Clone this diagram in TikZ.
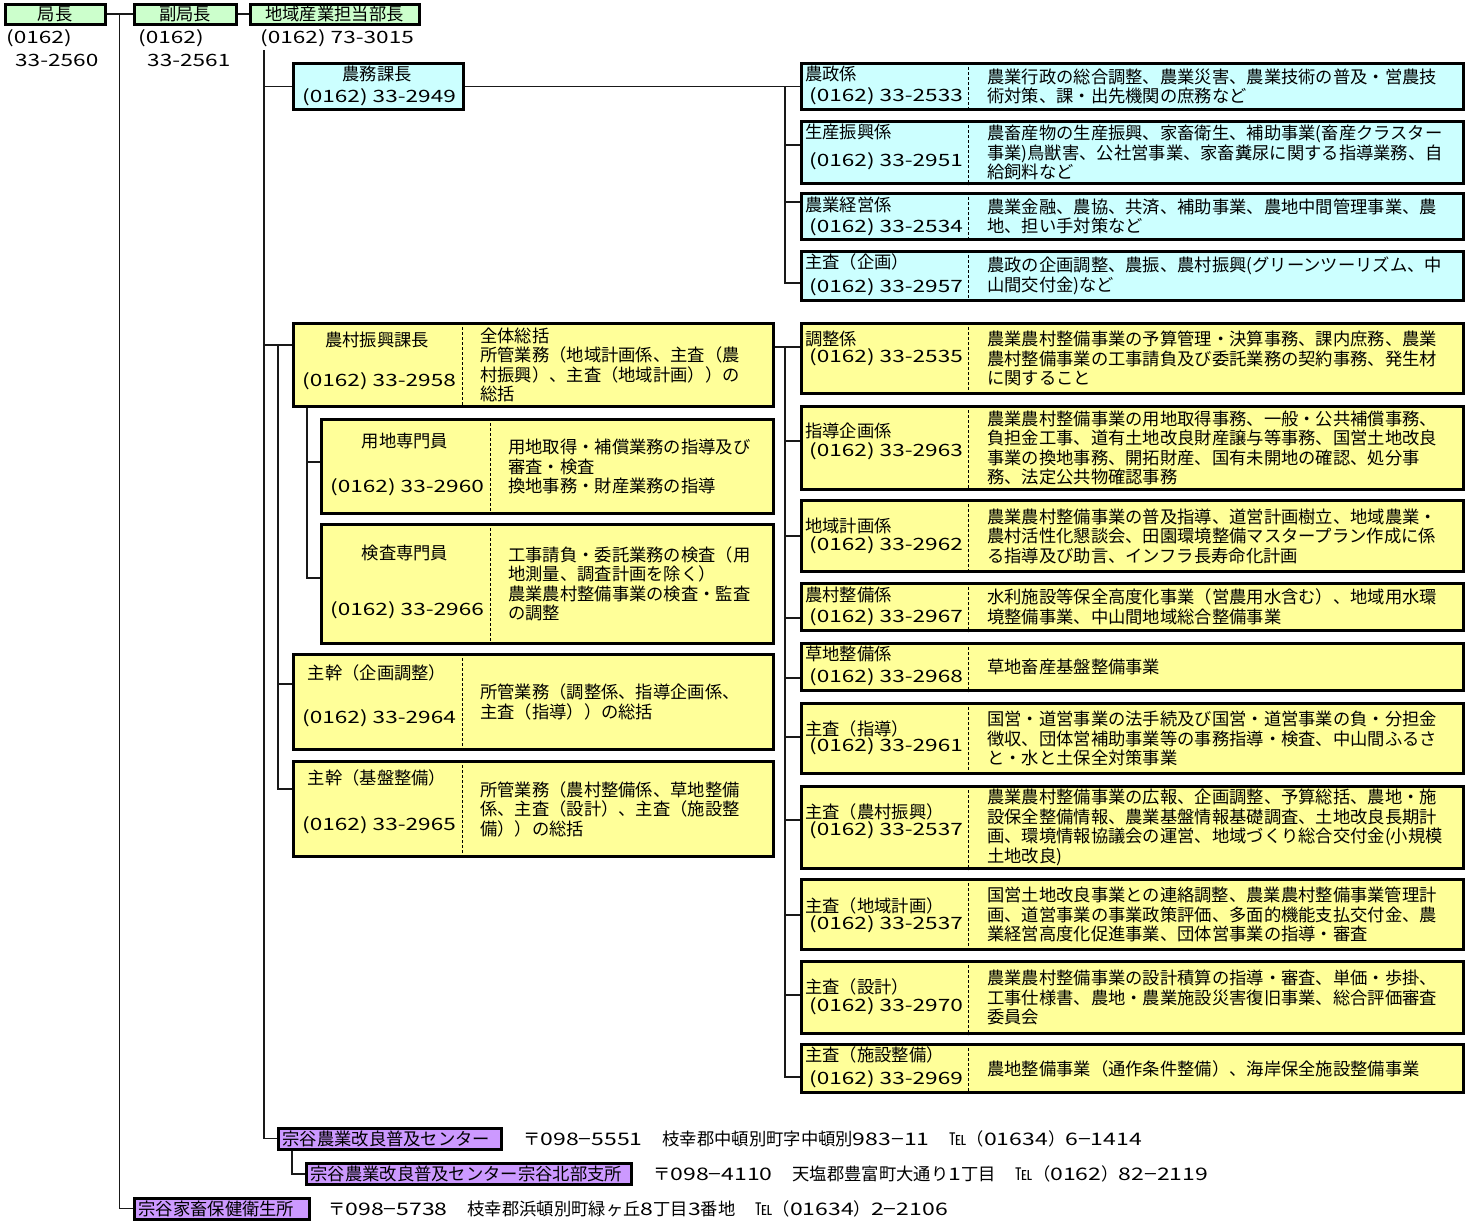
\documentclass[tikz,border=0pt]{standalone}
\usepackage{fontspec}
\setmainfont{Noto Sans CJK JP}
\newfontfamily\numfont[FakeStretch=1.33]{Noto Sans CJK JP}
\usetikzlibrary{positioning,calc}
\definecolor{kyokuC}{HTML}{CCFFCC}
\definecolor{nomuC}{HTML}{CCFFFF}
\definecolor{nosonC}{HTML}{FFFF99}
\definecolor{shisetsuC}{HTML}{CC99FF}

\tikzset{
  box/.style={draw=black, line width=3pt, inner sep=0pt, font=\fontsize{17.3}{19.5}\selectfont},
  link/.style={draw=black!90, line width=1.5pt},
  divider/.style={line width=0.9pt, dash pattern=on 3pt off 2pt},
  txt/.style={inner sep=0pt, anchor=west, font=\fontsize{17.3}{19.5}\selectfont},
  tel/.style={inner sep=0pt, anchor=west, font=\numfont\fontsize{17}{19}\selectfont},
  memo/.style={txt, align=left},
  purple/.style={box, fill=shisetsuC, anchor=west, align=left, inner xsep=4pt, minimum height=21},
}

% #1 name, #2 top, #3 bottom, #4 title y, #5 phone y, #6 title, #7 phone, #8 duties, #9 fill
\newcommand{\kakari}[9]{%
  \node[box, fill=#9, minimum width=662, minimum height={#3-#2}, anchor=north west] (#1) at (800,#2) {};
  \draw[divider] ([xshift=168pt]#1.north west) -- ([xshift=168pt]#1.south west);
  \node[txt] (#1-t) at (805,#4+1) {#6};
  \node[tel] (#1-p) at (809,#5) {#7};
  \node[memo] (#1-m) at ([xshift=187pt]#1.west) {#8};
}

% #1 name, #2 left, #3 top, #4 bottom, #5 title y, #6 phone y, #7 title, #8 phone, #9 duties
\newcommand{\kacho}[9]{%
  \node[box, fill=nosonC, minimum width={772-#2}, minimum height={#4-#3}, anchor=north west] (#1) at (#2,#3) {};
  \draw[divider] ([xshift=170pt]#1.north west) -- ([xshift=170pt]#1.south west);
  \node[txt, anchor=center] (#1-t) at (#2+85,#5+1) {#7};
  \node[tel] (#1-p) at (#2+10,#6) {#8};
  \node[memo] (#1-m) at ([xshift=188pt]#1.west) {#9};
}

\begin{document}
\begin{tikzpicture}[x=1pt,y=-1pt]
  \useasboundingbox (0,0) rectangle (1469,1221);

  % top row
  \node[box, fill=kyokuC, minimum width=100, minimum height=20] (kyokucho) at (55,14) {局長};
  \node[box, fill=kyokuC, minimum width=102, minimum height=20] (fuku) at (185,14) {副局長};
  \node[box, fill=kyokuC, minimum width=169, minimum height=20] (bucho) at (334.5,14) {地域産業担当部長};
  \node[tel] (kyokuchoA) at (6,38) {(0162)};
  \node[tel] (kyokuchoB) at (15,60) {33-2560};
  \node[tel] (fukuA) at (138,38) {(0162)};
  \node[tel] (fukuB) at (147,60) {33-2561};
  \node[tel] (buchoA) at (260,38) {(0162) 73-3015};

  \node[box, fill=nomuC, minimum width=170, minimum height=46, anchor=north west] (nomu) at (292,62) {};
  \node[txt, anchor=center] (nomu-t) at (377,74) {農務課長};
  \node[tel] (nomu-p) at (302,97) {(0162) 33-2949};

  % nomu section
  \kakari{nosei}{62}{108}{73}{96}{農政係}{(0162) 33-2533}{農業行政の総合調整、農業災害、農業技術の普及・営農技\\術対策、課・出先機関の庶務など}{nomuC}
  \kakari{seisan}{120}{182}{131}{161}{生産振興係}{(0162) 33-2951}{農畜産物の生産振興、家畜衛生、補助事業(畜産クラスター\\事業)鳥獣害、公社営事業、家畜糞尿に関する指導業務、自\\給飼料など}{nomuC}
  \kakari{keiei}{192}{238}{204}{227}{農業経営係}{(0162) 33-2534}{農業金融、農協、共済、補助事業、農地中間管理事業、農\\地、担い手対策など}{nomuC}
  \kakari{kikaku}{250}{299}{261}{287}{主査（企画）}{(0162) 33-2957}{農政の企画調整、農振、農村振興(グリーンツーリズム、中\\山間交付金)など}{nomuC}

  % noson section
  \kacho{noson}{292}{322}{405}{339}{381}{農村振興課長}{(0162) 33-2958}{全体総括\\所管業務（地域計画係、主査（農\\村振興）、主査（地域計画））の\\総括}
  \kacho{yochi}{320}{418}{512}{440}{487}{用地専門員}{(0162) 33-2960}{用地取得・補償業務の指導及び\\審査・検査\\換地事務・財産業務の指導}
  \kacho{kensa}{320}{523}{642}{552}{610}{検査専門員}{(0162) 33-2966}{工事請負・委託業務の検査（用\\地測量、調査計画を除く）\\農業農村整備事業の検査・監査\\の調整}
  \kacho{kanji1}{292}{653}{748}{672}{718}{主幹（企画調整）}{(0162) 33-2964}{所管業務（調整係、指導企画係、\\主査（指導））の総括}
  \kacho{kanji2}{292}{760}{855}{777}{825}{主幹（基盤整備）}{(0162) 33-2965}{所管業務（農村整備係、草地整備\\係、主査（設計）、主査（施設整\\備））の総括}

  \kakari{chosei}{322}{392}{338}{357}{調整係}{(0162) 33-2535}{農業農村整備事業の予算管理・決算事務、課内庶務、農業\\農村整備事業の工事請負及び委託業務の契約事務、発生材\\に関すること}{nosonC}
  \kakari{shido}{405}{488}{430}{451}{指導企画係}{(0162) 33-2963}{農業農村整備事業の用地取得事務、一般・公共補償事務、\\負担金工事、道有土地改良財産譲与等事務、国営土地改良\\事業の換地事務、開拓財産、国有未開地の確認、処分事\\務、法定公共物確認事務}{nosonC}
  \kakari{chiiki}{499}{570}{525}{545}{地域計画係}{(0162) 33-2962}{農業農村整備事業の普及指導、道営計画樹立、地域農業・\\農村活性化懇談会、田園環境整備マスタープラン作成に係\\る指導及び助言、インフラ長寿命化計画}{nosonC}
  \kakari{seibi}{582}{629}{594}{617}{農村整備係}{(0162) 33-2967}{水利施設等保全高度化事業（営農用水含む）、地域用水環\\境整備事業、中山間地域総合整備事業}{nosonC}
  \kakari{sochi}{642}{689}{653}{677}{草地整備係}{(0162) 33-2968}{草地畜産基盤整備事業}{nosonC}
  \kakari{shuShido}{702}{772}{728}{746}{主査（指導）}{(0162) 33-2961}{国営・道営事業の法手続及び国営・道営事業の負・分担金\\徴収、団体営補助事業等の事務指導・検査、中山間ふるさ\\と・水と土保全対策事業}{nosonC}
  \kakari{shuShinko}{785}{867}{811}{830}{主査（農村振興）}{(0162) 33-2537}{農業農村整備事業の広報、企画調整、予算総括、農地・施\\設保全整備情報、農業基盤情報基礎調査、土地改良長期計\\画、環境情報協議会の運営、地域づくり総合交付金(小規模\\土地改良)}{nosonC}
  \kakari{shuChiiki}{878}{948}{905}{924}{主査（地域計画）}{(0162) 33-2537}{国営土地改良事業との連絡調整、農業農村整備事業管理計\\画、道営事業の事業政策評価、多面的機能支払交付金、農\\業経営高度化促進事業、団体営事業の指導・審査}{nosonC}
  \kakari{shuSekkei}{960}{1032}{986}{1006}{主査（設計）}{(0162) 33-2970}{農業農村整備事業の設計積算の指導・審査、単価・歩掛、\\工事仕様書、農地・農業施設災害復旧事業、総合評価審査\\委員会}{nosonC}
  \kakari{shuShisetsu}{1043}{1091}{1054}{1079}{主査（施設整備）}{(0162) 33-2969}{農地整備事業（通作条件整備）、海岸保全施設整備事業}{nosonC}

  % outside offices
  \node[purple, text width=215] (fukyu) at (277,1138.5) {宗谷農業改良普及センター};
  \node[purple, text width=317] (hokubu) at (305,1174) {宗谷農業改良普及センター宗谷北部支所};
  \node[purple, text width=167] (kachiku) at (133,1208.5) {宗谷家畜保健衛生所};
  \node[txt, right=20pt of fukyu] (addr1) {〒{\numfont 098−5551}\hspace{20pt}枝幸郡中頓別町字中頓別{\numfont 983−11}\hspace{20pt}℡（{\numfont 01634}）{\numfont 6−1414}};
  \node[txt, right=20pt of hokubu] (addr2) {〒{\numfont 098−4110}\hspace{20pt}天塩郡豊富町大通り{\numfont 1}丁目\hspace{20pt}℡（{\numfont 0162}）{\numfont 82−2119}};
  \node[txt, right=17pt of kachiku] (addr3) {〒{\numfont 098−5738}\hspace{20pt}枝幸郡浜頓別町緑ヶ丘{\numfont 8}丁目{\numfont 3}番地\hspace{20pt}℡（{\numfont 01634}）{\numfont 2−2106}};

  % connectors
  \coordinate (spineA) at ($(kyokucho.east)!0.5!(fuku.west)$);
  \draw[link] (kyokucho.east) -- (fuku.west);
  \draw[link] (fuku.east) -- (bucho.west);
  \draw[link] (spineA) |- (kachiku.west);

  \coordinate (spineB) at (264,50);
  \draw[link] (spineB) |- (fukyu.west);
  \draw[link] (spineB |- nomu.west) -- (nomu.west);
  \draw[link] (spineB |- 0,345) -- (noson.west |- 0,345);
  \coordinate (spineC) at (278,345);
  \draw[link] (spineC) |- (kanji1.west |- 0,684);
  \draw[link] (spineC) |- (kanji2.west |- 0,789);
  \coordinate (spineD) at ([xshift=15pt]noson.south west);
  \draw[link] (spineD) |- (yochi.west |- 0,462);
  \draw[link] (spineD) |- (kensa.west |- 0,578);
  \draw[link] ([xshift=15pt]fukyu.south west) |- (hokubu.west);

  \draw[link] (nomu.east) -- (nosei.west);
  \coordinate (hubN) at ([xshift=-15pt]nosei.west);
  \draw[link] (hubN) |- (kikaku.west |- 0,283);
  \foreach \n/\y in {seisan/145, keiei/202}
    \draw[link] (hubN |- 0,\y) -- (\n.west |- 0,\y);

  \draw[link] (noson.east |- 0,347) -- (chosei.west |- 0,347);
  \coordinate (hubS) at ([xshift=-15pt]chosei.west |- 0,347);
  \draw[link] (hubS) |- (shuShisetsu.west |- 0,1077);
  \foreach \n/\y in {shido/441, chiiki/536, seibi/618, sochi/678, shuShido/737, shuShinko/820, shuChiiki/915, shuSekkei/995}
    \draw[link] (hubS |- 0,\y) -- (\n.west |- 0,\y);
\end{tikzpicture}
\end{document}
